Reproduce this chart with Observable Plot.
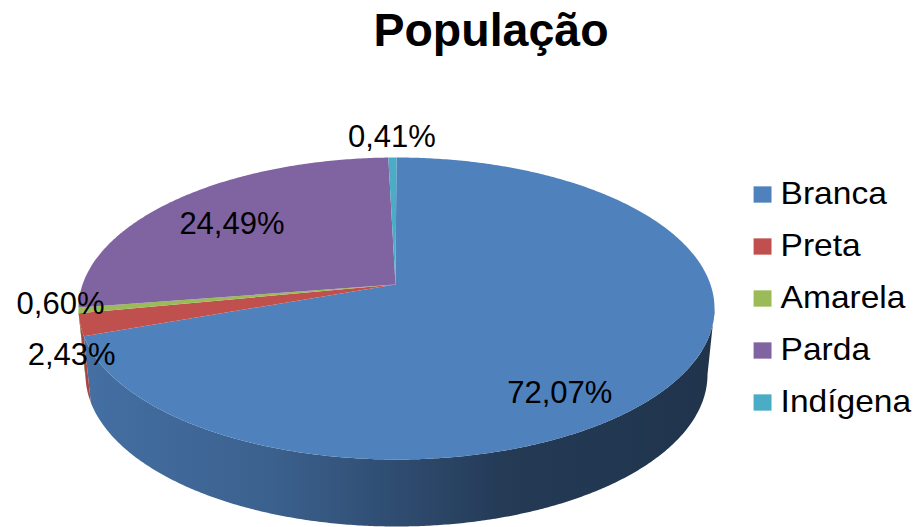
<!DOCTYPE html>
<html><head><meta charset="utf-8">
<script src="https://cdn.jsdelivr.net/npm/d3@7"></script>
<script src="https://cdn.jsdelivr.net/npm/@observablehq/plot@0.6"></script>
<style>
body{margin:0;background:#fff;}
#wrap{position:relative;width:916px;height:527px;overflow:hidden;font-family:"Liberation Sans",Arial,sans-serif;}
#title{position:absolute;left:191px;width:600px;top:7px;text-align:center;font-weight:bold;font-size:46.5px;line-height:46px;color:#000;}
#chart{position:absolute;left:0;top:0;}
#legend{position:absolute;left:740px;top:160px;transform:scaleX(1.1);transform-origin:0 0;}
</style></head><body>
<div id="wrap"><div id="title">População</div><div id="chart"></div><div id="legend"></div></div>
<script>
// ---- data ----
const categories = ["Branca", "Preta", "Amarela", "Parda", "Indígena"];
const values = [72.07, 2.43, 0.60, 24.49, 0.41];
const valueLabels = ["72,07%", "2,43%", "0,60%", "24,49%", "0,41%"];
const colors = ["#4f81bd", "#c0504d", "#9bbb59", "#8064a2", "#4bacc6"];

// ---- geometry of the 3D pie (layout) ----
const W = 916, H = 527;
const cx = 396, cy = 308, rx = 318, ry = 151;   // top ellipse
const vShift = 24;                               // perspective shift of the apex
const depth = 66, brx = 311, bry = 152;          // bottom ellipse
const fs = 31;
const labelFrac = 0.53, labelK = 0.76;

const rad = d => d * Math.PI / 180;
const rimTop = t => [cx + rx * Math.sin(rad(t)), cy - ry * Math.cos(rad(t))];
const rimBot = t => [cx + brx * Math.sin(rad(t)), cy + depth - bry * Math.cos(rad(t))];
function arc(a, b, fn) {
  const n = Math.max(2, Math.ceil(Math.abs(b - a) / 0.5));
  return d3.range(n + 1).map(k => fn(a + (b - a) * k / n));
}

const total = d3.sum(values);
let acc = 0;
const slices = categories.map((c, i) => {
  const a = acc / total * 360; acc += values[i]; const b = acc / total * 360;
  return {cat: c, i, a, b, mid: (a + b) / 2, v: values[i]};
});

// top faces
const topPts = slices.flatMap(s => [[cx - 1, cy - vShift], ...arc(s.a, s.b, rimTop)]
  .map(([x, y]) => ({cat: s.cat, x, y})));

// side faces (visible front half: 90..270 deg)
const sideMarks = [];
const gradDefs = [];
slices.forEach(s => {
  const a = Math.max(s.a, 90), b = Math.min(s.b, 270);
  if (b <= a) return;
  const pts = [...arc(a, b, rimTop), ...arc(b, a, rimBot)].map(([x, y]) => ({x, y}));
  const id = "side" + s.i;
  const base = d3.rgb(colors[s.i]);
  const sh = f => d3.rgb(base.r * f, base.g * f, base.b * f).formatHex();
  const stops = [[0, 0.87], [0.3, 0.75], [0.5, 0.59], [0.68, 0.45], [1, 0.4]];
  gradDefs.push(`<linearGradient id="${id}" gradientUnits="userSpaceOnUse" x1="${cx - rx}" y1="0" x2="${cx + rx}" y2="0">` +
    stops.map(([o, f]) => `<stop offset="${o}" stop-color="${sh(f)}"/>`).join("") + `</linearGradient>`);
  sideMarks.push(Plot.line(pts, {x: "x", y: "y", fill: `url(#${id})`, stroke: "none"}));
});

// labels
const labelData = slices.map(s => {
  if (s.v > 10) {
    const t = s.a + labelFrac * (s.b - s.a);
    const sn = Math.sin(rad(t)), cs = Math.cos(rad(t));
    return {text: valueLabels[s.i], x: cx + labelK * rx * sn, y: cy - labelK * ry * cs, out: false};
  }
  const sn = Math.sin(rad(s.mid)), cs = Math.cos(rad(s.mid));
  const [px, py] = rimTop(s.mid);
  const dx = rx * sn, dy = -ry * cs, n = Math.hypot(dx, dy);
  return {text: valueLabels[s.i], x: px + 18 * dx / n, y: py + 20 * dy / n, out: true};
});
// simple collision avoidance for outside labels
const outs = labelData.filter(d => d.out).sort((p, q) => p.y - q.y);
for (let k = 1; k < outs.length; k++) {
  const p = outs[k - 1], q = outs[k];
  if (Math.abs(q.x - p.x) < 3 * fs && q.y - p.y < 1.5 * fs) {
    const mid = (p.y + q.y) / 2;
    p.y = Math.min(p.y, mid - 0.45 * fs);
    q.y = p.y + 1.65 * fs;
    q.x += 0.3 * fs;
  }
}

const colorScale = {domain: categories, range: colors};
const chart = Plot.plot({
  width: W, height: H, margin: 0,
  x: {type: "identity", axis: null},
  y: {type: "identity", axis: null},
  color: colorScale,
  style: {fontFamily: "Liberation Sans, Arial, sans-serif", background: "transparent"},
  marks: [
    ...sideMarks,
    Plot.line(topPts, {x: "x", y: "y", z: "cat", fill: "cat", stroke: "none"}),
    Plot.text(labelData, {x: "x", y: "y", text: "text", fontSize: fs, fill: "#000"})
  ]
});
chart.insertAdjacentHTML("afterbegin", `<defs>${gradDefs.join("")}</defs>`);
document.getElementById("chart").appendChild(chart);

// legend
const legend = Plot.plot({
  width: 160, height: 270, margin: 0,
  x: {type: "identity", axis: null},
  y: {type: "point", domain: categories, range: [33, 242], padding: 0, axis: null},
  color: colorScale,
  style: {fontFamily: "Liberation Sans, Arial, sans-serif", background: "transparent", overflow: "visible"},
  marks: [
    Plot.dot(categories, {x: 20, y: d => d, fill: d => d, symbol: "square", r: 9.2, stroke: "none"}),
    Plot.text(categories, {x: 36.4, y: d => d, text: d => d, textAnchor: "start", fontSize: 30.5, fill: "#000"})
  ]
});
document.getElementById("legend").appendChild(legend);
</script>
</body></html>
